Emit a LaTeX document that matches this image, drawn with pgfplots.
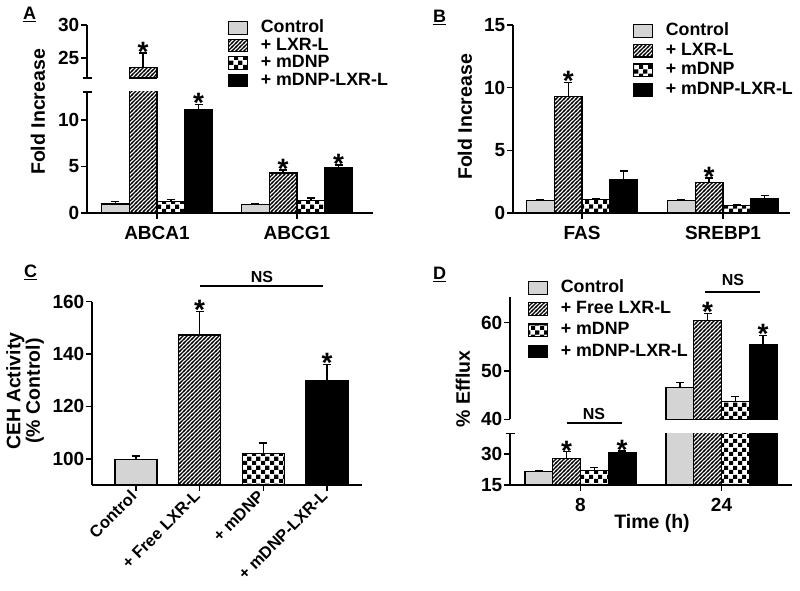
\documentclass[border=0pt]{standalone}
\usepackage{fontspec}
\setmainfont{Liberation Sans}
\usepackage{pgfplots}
\pgfplotsset{compat=1.18}
\usetikzlibrary{patterns}

\definecolor{ctrlgray}{RGB}{212,212,212}

% hatching and checkerboard fills
\pgfdeclarepatternformonly{hatchx}{\pgfqpoint{-1pt}{-1pt}}{\pgfqpoint{5pt}{5pt}}{\pgfqpoint{4pt}{4pt}}{%
  \pgfsetlinewidth{1.1pt}%
  \pgfpathmoveto{\pgfqpoint{-1pt}{-1pt}}%
  \pgfpathlineto{\pgfqpoint{5pt}{5pt}}%
  \pgfusepath{stroke}}
\pgfdeclarepatternformonly{checks}{\pgfqpoint{0pt}{0pt}}{\pgfqpoint{9pt}{9pt}}{\pgfqpoint{9pt}{9pt}}{%
  \pgfpathrectangle{\pgfqpoint{0pt}{0pt}}{\pgfqpoint{4.5pt}{4.5pt}}%
  \pgfpathrectangle{\pgfqpoint{4.5pt}{4.5pt}}{\pgfqpoint{4.5pt}{4.5pt}}%
  \pgfusepath{fill}}

\newcommand\fs[1]{\fontsize{#1}{#1}\selectfont\bfseries}

\tikzset{ast/.style={font=\fs{28}, inner sep=0pt, anchor=base, yshift=-8.3pt}}

\pgfplotsset{
  myleg/.style={legend image code/.code={\draw[##1,line width=1.2pt] (0pt,-6.3pt) rectangle (19pt,6.3pt);}},
  base/.style={
    scale only axis, anchor=south west, enlargelimits=false, clip mode=individual,
    axis x line=bottom, axis y line=left,
    axis line style={line width=1.8pt,-},
    every outer x axis line/.append style={-},
    every outer y axis line/.append style={-},
    tick align=outside, major tick length=6pt,
    tick style={line width=1.5pt, black},
    ticklabel style={font=\fs{19}},
    yticklabel style={inner sep=1.5pt},
    /pgf/number format/assume math mode=true,
    extra y tick labels={},
    extra y tick style={grid=none, tick align=center, major tick length=9pt},
    every axis plot/.append style={draw=black, line width=1.2pt},
    legend cell align=left,
  },
  grp/.style={ybar=0pt, bar width=27.75pt, xticklabel style={yshift=-4pt}},
  % single bars at their own x (upper parts of the broken axes)
  sb/.style={ybar, bar width=27.75pt},
  eb/.style={error bars/.cd, y dir=plus, y explicit,
    error bar style={line width=1.4pt,black},
    error mark options={rotate=90,line width=1.4pt,mark size=4pt,black}},
  ctl/.style={fill=ctrlgray, myleg},
  lxr/.style={pattern=hatchx, pattern color=black, myleg},
  dnp/.style={pattern=checks, pattern color=black, myleg},
  blk/.style={fill=black, myleg},
  leg/.style={legend style={draw=none, fill=none, inner sep=0pt,
    row sep=#1, font=\fs{17.8},
    nodes={inner sep=0pt, text height=12.8pt, text depth=3.6pt},
    /tikz/every odd column/.append style={column sep=13pt}}},
}

\begin{document}
\begin{tikzpicture}[x=1pt,y=1pt]
\path[use as bounding box, fill=white] (0,0) rectangle (800,591);

% ---------------- A ----------------
\begin{axis}[base, grp, at={(87pt,378pt)}, width=286pt, height=121pt,
  xmin=-0.5, xmax=1.543, ymin=0, ymax=13, ytick={0,5,10},
  xtick={0,1}, xticklabels={ABCA1,ABCG1}, extra y ticks={13},
  leg=1.1pt, legend style={at={(0.491,1.599)}, anchor=north west}]
\addplot[ctl,eb] coordinates {(0,0.96) +- (0,0.25) (1,0.95) +- (0,0.1)};
\addplot[lxr,eb] coordinates {(0,23.6) +- (0,2.2) (1,4.3) +- (0,0.3)};
\addplot[dnp,eb] coordinates {(0,1.2) +- (0,0.25) (1,1.3) +- (0,0.3)};
\addplot[blk,eb] coordinates {(0,11.1) +- (0,0.55) (1,4.9) +- (0,0.25)};
\legend{Control,+ LXR-L,+ mDNP,+ mDNP-LXR-L}
\node[ast,xshift=41.625pt] at (axis cs:0,11.65) {*};
\node[ast,xshift=-13.875pt] at (axis cs:1,4.6) {*};
\node[ast,xshift=41.625pt] at (axis cs:1,5.15) {*};
\end{axis}
% upper part: only the ABCA1 + LXR-L bar reaches it
\begin{axis}[base, axis x line=none, at={(87pt,513pt)}, width=286pt, height=53pt,
  xmin=-0.5, xmax=1.543, ymin=22, ymax=30, ytick={25,30}, extra y ticks={22}]
\addplot[sb, lxr, eb] coordinates {(-0.0991,23.6) +- (0,2.2)};
\draw[line width=1.2pt] ([xshift=-13.875pt]axis cs:-0.0991,22) -- ([xshift=13.875pt]axis cs:-0.0991,22);
\node[ast] at (axis cs:-0.0991,25.8) {*};
\end{axis}

% ---------------- B ----------------
\begin{axis}[base, grp, at={(513pt,378pt)}, width=277pt, height=188pt,
  xmin=-0.49, xmax=1.475, ymin=0, ymax=15, ytick={0,5,10,15},
  xtick={0,1}, xticklabels={FAS,SREBP1},
  leg=3.3pt, legend style={at={(0.431,1.013)}, anchor=north west}]
\addplot[ctl,eb] coordinates {(0,1.0) +- (0,0.1) (1,1.0) +- (0,0.1)};
\addplot[lxr,eb] coordinates {(0,9.3) +- (0,1.1) (1,2.45) +- (0,0.35)};
\addplot[dnp,eb] coordinates {(0,1.05) +- (0,0.1) (1,0.6) +- (0,0.1)};
\addplot[blk,eb] coordinates {(0,2.7) +- (0,0.65) (1,1.15) +- (0,0.25)};
\legend{Control,+ LXR-L,+ mDNP,+ mDNP-LXR-L}
\node[ast,xshift=-13.875pt] at (axis cs:0,10.4) {*};
\node[ast,xshift=-13.875pt] at (axis cs:1,2.8) {*};
\end{axis}

% ---------------- C ----------------
\begin{axis}[base, at={(92pt,106pt)}, width=270pt, height=183.3pt,
  xmin=-0.691, xmax=3.55, ymin=90, ymax=160, ytick={100,120,140,160},
  xtick={0,1,2,3}, xticklabels={Control,+ Free LXR-L,+ mDNP,+ mDNP-LXR-L},
  xticklabel style={rotate=45, anchor=east, font=\fs{16.5}}]
\addplot[ybar, bar width=42pt, ctl, eb] coordinates {(0,99.8) +- (0,1.2)};
\addplot[ybar, bar width=42pt, lxr, eb] coordinates {(1,147.3) +- (0,9.0)};
\addplot[ybar, bar width=42pt, dnp, eb] coordinates {(2,102.0) +- (0,4.0)};
\addplot[ybar, bar width=42pt, blk, eb] coordinates {(3,129.8) +- (0,6.2)};
\node[ast] at (axis cs:1,156.3) {*};
\node[ast] at (axis cs:3,136.0) {*};
\end{axis}

% ---------------- D ----------------
\begin{axis}[base, grp, at={(510pt,106pt)}, width=282pt, height=51.7pt,
  xmin=-0.5, xmax=1.5, ymin=15, ymax=40, ytick={15,30},
  xtick={0,1}, xticklabels={8,24}, extra y ticks={40}]
\addplot[ctl,eb] coordinates {(0,21.4) +- (0,0.6) (1,46.6) +- (0,1.0)};
\addplot[lxr,eb] coordinates {(0,27.9) +- (0,3.2) (1,60.4) +- (0,1.5)};
\addplot[dnp,eb] coordinates {(0,22.1) +- (0,1.3) (1,43.6) +- (0,1.1)};
\addplot[blk,eb] coordinates {(0,30.6) +- (0,0.8) (1,55.4) +- (0,1.9)};
\node[ast,xshift=-13.875pt] at (axis cs:0,31.1) {*};
\node[ast,xshift=41.625pt] at (axis cs:0,31.4) {*};
\end{axis}
% upper part: the 24 h bars
\begin{axis}[base, axis x line=none, at={(510pt,171.7pt)}, width=282pt, height=122.3pt,
  xmin=-0.5, xmax=1.5, ymin=40, ymax=65.3, ytick={40,50,60},
  leg=4.8pt, legend style={at={(0.0617,1.143)}, anchor=north west}]
\addplot[sb, ctl, eb] coordinates {(0.7048,46.6) +- (0,1.0)};
\addplot[sb, lxr, eb] coordinates {(0.9016,60.4) +- (0,1.5)};
\addplot[sb, dnp, eb] coordinates {(1.0984,43.6) +- (0,1.1)};
\addplot[sb, blk, eb] coordinates {(1.2952,55.4) +- (0,1.9)};
\legend{Control,+ Free LXR-L,+ mDNP,+ mDNP-LXR-L}
\node[ast] at (axis cs:0.9016,61.9) {*};
\node[ast] at (axis cs:1.2952,57.3) {*};
\end{axis}

% ---------------- labels and annotations ----------------
\node[rotate=90, font=\fs{19.5}] at (38,479) {Fold Increase};
\node[rotate=90, font=\fs{19.5}] at (465,474) {Fold Increase};
\node[rotate=90, align=center, font=\fontsize{19.5}{19.5}\selectfont\bfseries] at (25,200) {CEH Activity\\(\% Control)};
\node[rotate=90, font=\fs{19.5}] at (463,202) {\% Efflux};
\node[font=\fs{19.5}] at (652,68) {Time (h)};

\node[anchor=base west, inner sep=0pt, font=\fs{18}] at (23,571) {\underline{A}};
\node[anchor=base west, inner sep=0pt, font=\fs{18}] at (433,568) {\underline{B}};
\node[anchor=base west, inner sep=0pt, font=\fs{18}] at (24,313) {\underline{C}};
\node[anchor=base west, inner sep=0pt, font=\fs{18}] at (433,311) {\underline{D}};

\draw[line width=2pt] (200,305) -- (323,305);
\node[font=\fs{16}] at (262,314) {NS};
\draw[line width=2pt] (567,168) -- (622,168);
\node[font=\fs{16}] at (594,177) {NS};
\draw[line width=2pt] (705,299) -- (760,299);
\node[font=\fs{16}] at (733,311) {NS};
\end{tikzpicture}
\end{document}
